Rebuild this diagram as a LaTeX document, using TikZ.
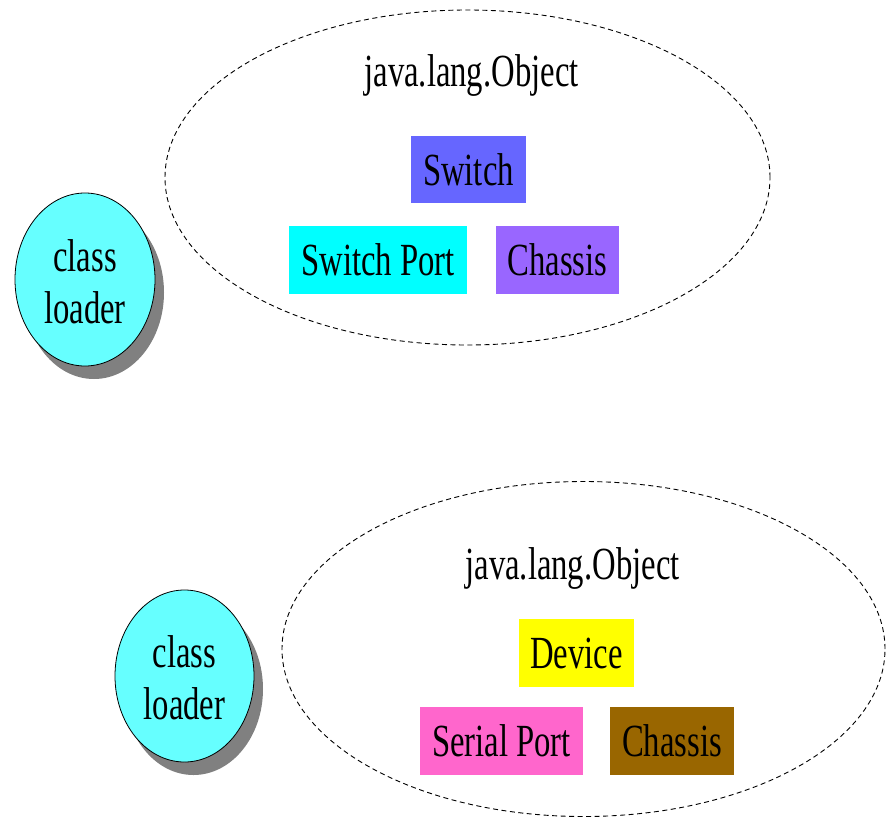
\documentclass[tikz,border=0pt]{standalone}
\usepackage{fontspec}
\setmainfont{Liberation Serif}[FakeStretch=0.71]
\usetikzlibrary{shapes.geometric,shadows}

\definecolor{loadercyan}{HTML}{66FFFF}
\definecolor{shadowgray}{HTML}{808080}
\definecolor{switchblue}{HTML}{6666FF}
\definecolor{portcyan}{HTML}{00FFFF}
\definecolor{chassisviolet}{HTML}{9966FF}
\definecolor{deviceyellow}{HTML}{FFFF00}
\definecolor{serialpink}{HTML}{FF66CC}
\definecolor{chassisbrown}{HTML}{996600}

\tikzset{
  label text/.style={font=\fontsize{46.2}{52}\selectfont, text=black},
  namespace/.style={ellipse, draw=black, line width=0.9bp,
    dash pattern=on 5bp off 3.5bp, inner sep=0pt},
  loader/.style={ellipse, draw=black, line width=0.8bp, fill=loadercyan,
    inner sep=0pt,
    drop shadow={shadow xshift=9bp, shadow yshift=-13bp,
      fill=shadowgray, opacity=1}},
  loader text/.style={label text, align=center, inner sep=0pt},
  classbox/.style={rectangle, inner sep=0pt, label text,
    minimum height=68bp}
}

\begin{document}
\begin{tikzpicture}[x=1bp, y=-1bp]
\useasboundingbox (0,0) rectangle (890,818);

% upper class loader and its namespace
\node[namespace, minimum width=605bp, minimum height=335bp] (nsA) at (467.5,177.5) {};
\node[label text, anchor=base] (objA) at (471.5,87) {java.lang.Object};
\node[classbox, fill=switchblue, minimum width=115bp, minimum height=67bp] (switch) at (468.5,169.5) {Switch};
\node[classbox, fill=portcyan, minimum width=178bp] (switchport) at (378,260) {Switch Port};
\node[classbox, fill=chassisviolet, minimum width=123bp] (chassisA) at (557.5,260) {Chassis};
\node[loader, minimum width=140bp, minimum height=173bp] (loaderA) at (85,279.5) {};
\node[loader text, anchor=base] (loaderAtext) at (85,323) {class\\loader};

% lower class loader and its namespace
\node[namespace, minimum width=603bp, minimum height=335bp] (nsB) at (583.5,649) {};
\node[label text, anchor=base] (objB) at (572.5,579) {java.lang.Object};
\node[classbox, fill=deviceyellow, minimum width=115bp] (device) at (576.5,653) {Device};
\node[classbox, fill=serialpink, minimum width=163bp] (serialport) at (501.5,741) {Serial Port};
\node[classbox, fill=chassisbrown, minimum width=124bp] (chassisB) at (672,741) {Chassis};
\node[loader, minimum width=139bp, minimum height=172bp] (loaderB) at (184.5,676) {};
\node[loader text, anchor=base] (loaderBtext) at (184.5,719) {class\\loader};
\end{tikzpicture}
\end{document}
